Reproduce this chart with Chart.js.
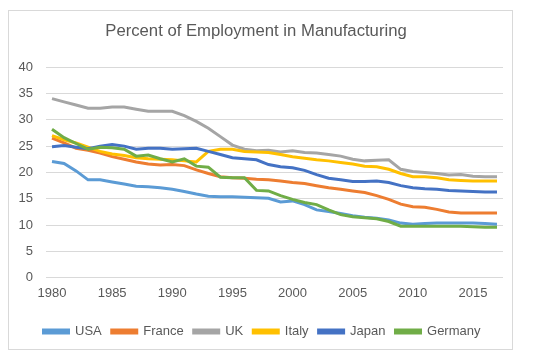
<!DOCTYPE html>
<html>
<head>
<meta charset="utf-8">
<script src="https://cdn.jsdelivr.net/npm/chart.js@4/dist/chart.umd.min.js"></script>
<style>
  html, body { margin: 0; padding: 0; background: #fff; }
  body { width: 534px; height: 357px; position: relative; overflow: hidden; }
  #box { position: absolute; left: 8px; top: 10px; width: 505px; height: 340px; border: 1px solid #d9d9d9; box-sizing: border-box; }
  #wrap { position: absolute; left: 0px; top: 0px; width: 503px; height: 338px; }
</style>
</head>
<body>
<div id="box"><div id="wrap"><canvas id="c"></canvas></div></div>
<script>
const years = [];
for (let y = 1980; y <= 2017; y++) years.push(String(y));

const yTicks = [0, 5, 10, 15, 20, 25, 30, 35, 40];

const usa = [22.1, 21.7, 20.3, 18.6, 18.6, 18.2, 17.8, 17.4, 17.3, 17.1, 16.8, 16.4, 15.9, 15.5, 15.4, 15.4, 15.3, 15.2, 15.1, 14.4, 14.6, 13.9, 12.9, 12.6, 12.2, 11.8, 11.5, 11.3, 11.0, 10.4, 10.2, 10.3, 10.4, 10.4, 10.4, 10.4, 10.3, 10.2];
const france = [26.5, 25.6, 24.6, 24.2, 23.7, 23.0, 22.5, 22.0, 21.6, 21.4, 21.5, 21.3, 20.5, 19.8, 19.2, 19.0, 18.9, 18.7, 18.6, 18.4, 18.1, 17.9, 17.5, 17.1, 16.8, 16.5, 16.2, 15.6, 14.9, 14.0, 13.5, 13.4, 13.0, 12.5, 12.3, 12.3, 12.3, 12.3];
const uk = [34.0, 33.4, 32.8, 32.2, 32.2, 32.4, 32.4, 32.0, 31.6, 31.6, 31.6, 30.8, 29.7, 28.4, 26.8, 25.2, 24.4, 24.1, 24.2, 23.9, 24.1, 23.8, 23.7, 23.4, 23.1, 22.5, 22.2, 22.3, 22.4, 20.6, 20.2, 20.0, 19.8, 19.5, 19.6, 19.3, 19.2, 19.2];
const italy = [27.0, 26.2, 25.6, 24.8, 24.0, 23.5, 23.2, 22.8, 22.6, 22.5, 22.4, 22.2, 22.0, 24.0, 24.4, 24.4, 24.0, 23.9, 23.8, 23.4, 23.0, 22.7, 22.4, 22.2, 21.9, 21.6, 21.2, 21.1, 20.6, 19.8, 19.2, 19.2, 19.0, 18.6, 18.5, 18.4, 18.4, 18.4];
const japan = [24.9, 25.1, 24.8, 24.5, 25.0, 25.3, 25.0, 24.4, 24.6, 24.6, 24.4, 24.5, 24.6, 24.0, 23.4, 22.8, 22.6, 22.4, 21.5, 21.1, 20.9, 20.4, 19.6, 18.9, 18.6, 18.3, 18.3, 18.4, 18.1, 17.5, 17.1, 16.9, 16.8, 16.6, 16.5, 16.4, 16.3, 16.3];
const germany = [28.2, 26.6, 25.5, 24.4, 24.8, 24.7, 24.4, 23.1, 23.3, 22.6, 22.0, 22.6, 21.2, 21.0, 19.1, 19.0, 19.0, 16.6, 16.5, 15.6, 14.9, 14.3, 13.9, 12.9, 12.0, 11.6, 11.4, 11.2, 10.7, 9.8, 9.8, 9.8, 9.8, 9.8, 9.8, 9.7, 9.6, 9.6];

const seriesNames = ["USA", "France", "UK", "Italy", "Japan", "Germany"];
const seriesData = [usa, france, uk, italy, japan, germany];
const seriesColors = ["#5B9BD5", "#ED7D31", "#A5A5A5", "#FFC000", "#4472C4", "#70AD47"];

const FONT = "'Liberation Sans', Arial, sans-serif";
const TXT = "#595959";

const datasets = seriesNames.map((n, i) => ({
  label: n,
  data: seriesData[i],
  borderColor: seriesColors[i],
  backgroundColor: seriesColors[i],
  borderWidth: 3,
  pointRadius: 0,
  pointHoverRadius: 0,
  tension: 0,
  fill: false,
  order: seriesNames.length - i
}));

const legendShift = {
  id: 'legendShift',
  afterLayout(chart) {
    if (chart.legend) { chart.legend.left += 6; chart.legend.right += 6; }
  }
};

new Chart(document.getElementById('c'), {
  type: 'line',
  data: { labels: years, datasets },
  plugins: [legendShift],
  options: {
    responsive: true,
    maintainAspectRatio: false,
    animation: false,
    layout: { padding: { left: 0, right: 9, top: 0, bottom: 1 } },
    plugins: {
      title: {
        display: true,
        text: 'Percent of Employment in Manufacturing',
        color: TXT,
        font: { family: FONT, size: 16.7, weight: 'normal' },
        padding: { top: 10, bottom: 26 }
      },
      legend: {
        position: 'bottom',
        labels: {
          color: TXT,
          font: { family: FONT, size: 13 },
          boxWidth: 25,
          boxHeight: 3,
          padding: 10,
          sort: (a, b) => a.datasetIndex - b.datasetIndex
        }
      },
      tooltip: { enabled: false }
    },
    scales: {
      x: {
        type: 'category',
        offset: true,
        grid: { display: false, drawTicks: false },
        border: { display: false },
        afterFit: (s) => { s.height += 5.5; },
        ticks: {
          color: TXT,
          font: { family: FONT, size: 13 },
          autoSkip: false,
          maxRotation: 0,
          padding: 8,
          callback: function(v, i) {
            const y = Number(years[i]);
            return (y % 5 === 0) ? years[i] : null;
          }
        }
      },
      y: {
        min: 0,
        max: 40,
        afterBuildTicks: (s) => { s.ticks = yTicks.map(v => ({ value: v })); },
        afterFit: (s) => { s.width = 37; },
        grid: { color: '#d9d9d9', lineWidth: 1, drawTicks: false },
        border: { display: false },
        ticks: {
          color: TXT,
          font: { family: FONT, size: 13 },
          padding: 13
        }
      }
    }
  }
});
</script>
</body>
</html>
